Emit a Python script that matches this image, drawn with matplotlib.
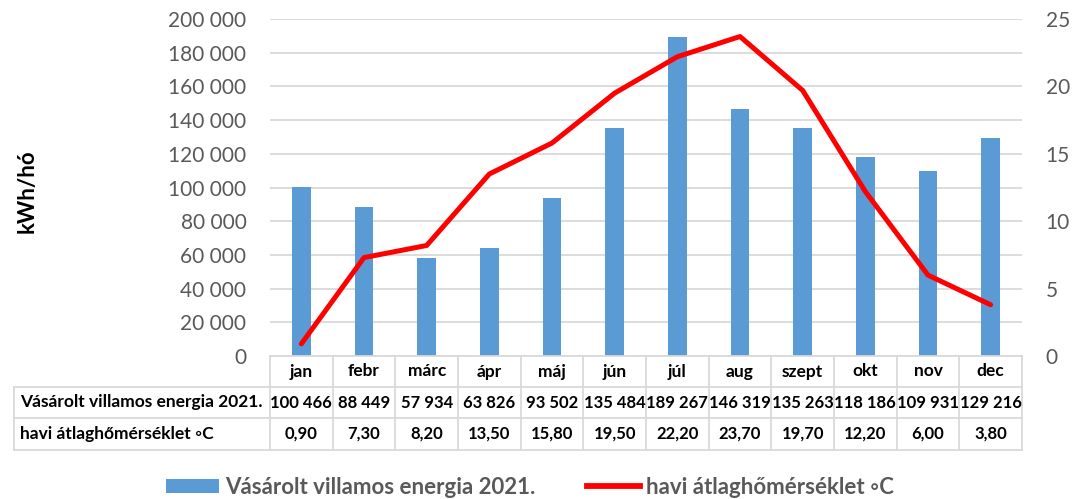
import matplotlib
matplotlib.use("Agg")
import numpy as np
import matplotlib.pyplot as plt
from matplotlib.lines import Line2D
from matplotlib.patches import Patch

plt.rcParams['font.family'] = ['Lato', 'DejaVu Sans']

months = ['jan', 'febr', 'márc', 'ápr', 'máj', 'jún', 'júl', 'aug', 'szept', 'okt', 'nov', 'dec']
energy = [100466, 88449, 57934, 63826, 93502, 135484, 189267, 146319, 135263, 118186, 109931, 129216]
temps = [0.90, 7.30, 8.20, 13.50, 15.80, 19.50, 22.20, 23.70, 19.70, 12.20, 6.00, 3.80]
energy_label = 'Vásárolt villamos energia 2021.'
temp_label = 'havi átlaghőmérséklet ◦C'

bar_color = '#5b9bd5'
line_color = '#ff0000'
grid_color = '#d9d9d9'
text_color = '#595959'

W, H = 1073, 499
fig = plt.figure(figsize=(W/100, H/100), dpi=100)
ax_l, ax_r, ax_t, ax_b = 270, 1022, 19, 356
ax = fig.add_axes([ax_l/W, 1-ax_b/H, (ax_r-ax_l)/W, (ax_b-ax_t)/H])

def px(xp, yp):
    return xp/W, 1-yp/H

x = np.arange(len(months))
ax.bar(x, energy, width=0.3, color=bar_color, zorder=2)
ax.set_xlim(-0.5, len(months)-0.5)
ax.set_ylim(0, 200000)
ax.set_yticks(np.arange(0, 200001, 20000))
ax.set_yticklabels([f'{v:,}'.replace(',', ' ') for v in range(0, 200001, 20000)])
ax.yaxis.grid(True, color=grid_color, linewidth=1.3, zorder=0)
ax.set_xticks([])
for s in ax.spines.values():
    s.set_visible(False)
ax.tick_params(axis='y', length=0, pad=17, labelsize=15, labelcolor=text_color)
ax.set_ylabel('kWh/hó', fontsize=16, fontweight='bold')
ax.yaxis.set_label_coords((38-ax_l)/(ax_r-ax_l), 0.49)

ax2 = ax.twinx()
ax2.plot(x, temps, color=line_color, linewidth=3.6, solid_capstyle='round', zorder=3)
ax2.set_ylim(0, 25)
ax2.set_yticks(np.arange(0, 26, 5))
for s in ax2.spines.values():
    s.set_visible(False)
ax2.tick_params(axis='y', length=0, pad=17, labelsize=15, labelcolor=text_color)

# data table drawn under the axes
tbl_left = 14
row_y = [356, 387, 418, 450]
col_w = (ax_r - ax_l) / len(months)
col_x = [ax_l + k*col_w for k in range(len(months)+1)]

def hline(y, x0, x1):
    (a, b), (c, _) = px(x0, y), px(x1, y)
    fig.add_artist(Line2D([a, c], [b, b], color=grid_color, linewidth=1.3))

def vline(xp, y0, y1):
    (a, b), (_, d) = px(xp, y0), px(xp, y1)
    fig.add_artist(Line2D([a, a], [b, d], color=grid_color, linewidth=1.3))

hline(row_y[0], ax_l, ax_r)
for y in row_y[1:]:
    hline(y, tbl_left, ax_r)
vline(tbl_left, row_y[1], row_y[3])
for cx in col_x:
    vline(cx, row_y[0], row_y[3])

energy_txt = [f'{v:,}'.replace(',', ' ') for v in energy]
temp_txt = [f'{v:.2f}'.replace('.', ',') for v in temps]
fs = 12.5
fs_val = 12
for i, m in enumerate(months):
    cx = (col_x[i] + col_x[i+1]) / 2
    for ri, txt in enumerate([m, energy_txt[i], temp_txt[i]]):
        cy = (row_y[ri] + row_y[ri+1]) / 2
        fig.text(*px(cx, cy), txt, ha='center', va='center',
                 fontsize=fs if ri == 0 else fs_val, fontweight='bold')
for ri, lab in enumerate([energy_label, temp_label]):
    cy = (row_y[ri+1] + row_y[ri+2]) / 2
    fig.text(*px(20, cy), lab, ha='left', va='center', fontsize=fs, fontweight='bold')

# legend
handles = [Patch(facecolor=bar_color, edgecolor='none'),
           Line2D([0], [0], color=line_color, linewidth=4.2)]
leg = fig.legend(handles, [energy_label, temp_label], loc='center left',
                 bbox_to_anchor=(px(166, 487)), ncol=2, frameon=False, borderaxespad=0,
                 borderpad=0, handlelength=2.4, handleheight=0.6, columnspacing=2.3,
                 handletextpad=0.27, prop={'weight': 'bold', 'size': 16})
for t in leg.get_texts():
    t.set_color(text_color)

fig.savefig('out.png', dpi=100)
